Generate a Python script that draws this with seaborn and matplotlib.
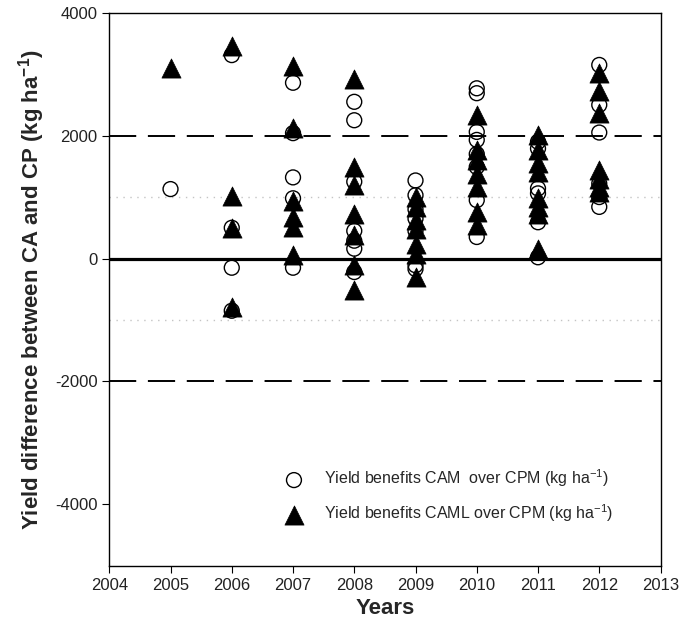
import pandas as pd
import matplotlib
matplotlib.use('Agg')
import matplotlib.pyplot as plt
import seaborn as sns

years = [2005, 2006, 2007, 2008, 2009, 2010, 2011, 2012]

# yield benefit CAM over CPM (open circles), one list per year
cam_vals = [
    [1130],
    [3310, 500, -150, -850],
    [2860, 2040, 1320, 980, -150],
    [2550, 2250, 1250, 450, 290, 160, -220],
    [1270, 1030, 800, 650, 450, -110, -170],
    [2770, 2690, 2060, 1930, 1700, 1490, 950, 350],
    [1900, 1790, 1140, 1060, 590, 20],
    [3150, 2500, 2050, 1220, 1000, 840],
]

# yield benefit CAML over CPM (filled triangles)
caml_vals = [
    [3100],
    [3450, 1020, 500, -790],
    [3130, 2120, 940, 680, 510, 50],
    [2920, 1490, 1190, 720, 390, -110, -520],
    [1000, 840, 620, 480, 240, 80, -300],
    [2330, 1760, 1600, 1380, 1160, 760, 540],
    [2010, 1760, 1550, 1410, 980, 840, 730, 160],
    [3020, 2720, 2360, 1440, 1300, 1160, 1080],
]

def to_df(vals):
    rows = [(y, v) for y, vs in zip(years, vals) for v in vs]
    return pd.DataFrame(rows, columns=['year', 'diff'])

df_cam = to_df(cam_vals)
df_caml = to_df(caml_vals)

sns.set_style('ticks')
plt.rcParams['font.family'] = ['Liberation Sans', 'DejaVu Sans']
plt.rcParams['mathtext.fontset'] = 'custom'
plt.rcParams['mathtext.rm'] = 'Liberation Sans'
plt.rcParams['mathtext.bf'] = 'Liberation Sans:bold'

fig = plt.figure(figsize=(6.96, 6.35), dpi=100)
ax = fig.add_axes([0.157, 0.109, 0.792, 0.871])

ax.axhline(0, color='black', lw=2.3, zorder=1)
for yv in [2000, -2000]:
    ax.axhline(yv, color='black', lw=1.4, dashes=(14, 6), zorder=1)
for yv in [1000, -1000]:
    ax.axhline(yv, color='#c4c4c4', lw=1.0, ls=(0, (1, 4)), zorder=1)

sns.scatterplot(data=df_cam, x='year', y='diff', marker='o', s=115,
                facecolors='none', edgecolor='black', linewidth=1.0, ax=ax, zorder=3,
                label='Yield benefits CAM  over CPM (kg ha$^{-1}$)')
sns.scatterplot(data=df_caml, x='year', y='diff', marker='^', s=190,
                color='black', edgecolor='black', linewidth=0.5, ax=ax, zorder=3,
                label='Yield benefits CAML over CPM (kg ha$^{-1}$)')

ax.set_xlim(2004, 2013)
ax.set_ylim(-5000, 4000)
ax.set_xticks(range(2004, 2014))
ax.set_yticks([-4000, -2000, 0, 2000, 4000])
ax.set_yticklabels(['-4000', '-2000', '0', '2000', '4000'])
ax.tick_params(labelsize=12, length=5, color='black', labelcolor='#222222')
for sp in ax.spines.values():
    sp.set_color('black')
    sp.set_linewidth(1.0)

ax.set_xlabel('Years', fontsize=16, fontweight='bold')
ax.set_ylabel('Yield difference between CA and CP (kg ha$^{\\mathbf{-1}}$)',
              fontsize=16, fontweight='bold', labelpad=6)

ax.legend(loc='lower left', bbox_to_anchor=(0.28, 0.05), frameon=False, fontsize=11.5,
          handletextpad=0.9, labelspacing=0.8)

fig.savefig('out.png', dpi=100)
